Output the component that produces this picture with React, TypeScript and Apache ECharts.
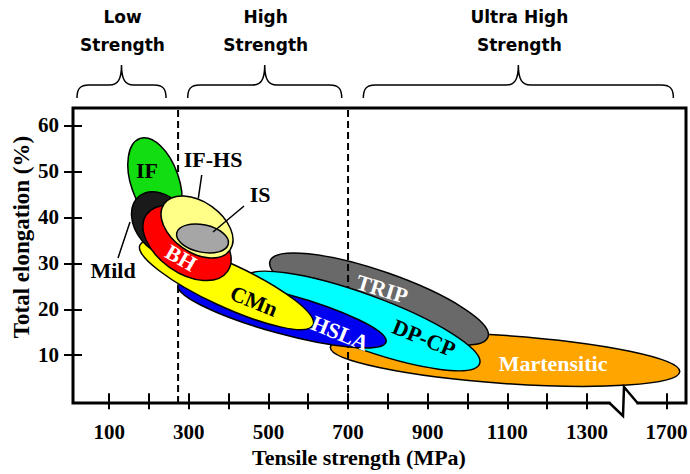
import React, { useEffect, useRef } from "react";
import * as echarts from "echarts";

// ---------- axis values ----------
const X_MIN = 9;
const X_MAX = 1549;
const Y_MIN = -0.4;
const Y_MAX = 63.8;
const xTickValues = [100, 200, 300, 400, 500, 600, 700, 800, 900, 1000, 1100, 1200, 1300, 1500];
const xLabelValues = [100, 300, 500, 700, 900, 1100, 1300, 1500];
const xLabelTexts = ["100", "300", "500", "700", "900", "1100", "1300", "1700"];
const yTickValues = [10, 20, 30, 40, 50, 60];
const axisBreakAt = 1392;
const dividerStrength = [273, 700];

// ---------- steel families (drawing order, back to front) ----------
const steelNames = ["Martensitic", "TRIP", "DP-CP", "HSLA", "CMn", "IF", "Mild", "BH", "IF-HS", "IS"];
// major axis end points: tensile strength (MPa) and total elongation (%)
const tsStart = [655.7, 504.0, 439.9, 272.8, 177.3, 177.3, 174.6, 193.7, 237.9, 269.6];
const elStart = [11.72, 30.5, 26.76, 25.28, 33.98, 57.16, 44.56, 40.6, 42.93, 36.6];
const tsEnd = [1533.1, 1051.7, 1030.4, 795.4, 612.0, 252.7, 290.7, 397.2, 403.2, 399.2];
const elEnd = [6.41, 13.96, 8.13, 12.87, 16.57, 38.23, 32.55, 28.24, 32.87, 34.2];
// half width of each band, in elongation (%)
const halfWidthEl = [5.22, 5.98, 5.88, 4.35, 4.68, 5.22, 5.66, 6.53, 5.51, 2.98];
const steelColors = ["#ffa500", "#696969", "#00ffff", "#0000f0", "#ffff00", "#11dd11", "#1a1a1a", "#ff0000", "#ffff88", "#a6a6a6"];
const backLayer = 2; // first families drawn behind the divider lines

// ---------- labels ----------
const labelTS = [1215, 785.4, 890.9, 679.9, 463.8, 194.9, 109.5, 280.4, 360.8, 478.9];
const labelEl = [8.09, 24.41, 13.75, 14.83, 21.8, 50.3, 28.54, 31.16, 52.5, 44.87];
const labelColors = ["#fff", "#fff", "#000", "#fff", "#000", "#000", "#000", "#fff", "#000", "#000"];
const labelTilt = [0, 17, 22, 22, 22, 0, 0, 30, 0, 0];

// leader lines (Mild, IF-HS, IS)
const leaderFromTS = [122.1, 332.4, 438.7];
const leaderFromEl = [31.16, 49.22, 42.47];
const leaderToTS = [152.2, 323.8, 360.8];
const leaderToEl = [38.99, 44.15, 36.81];

// ---------- strength classes ----------
const classLine1 = ["Low", "High", "Ultra High"];
const classLine2 = ["Strength", "Strength", "Strength"];
const classFrom = [19, 297.2, 738.4];
const classTo = [242.7, 684.1, 1517.3];

const SERIF = '"Liberation Serif", "Times New Roman", serif';

export default function App() {
  const ref = useRef<HTMLDivElement>(null);

  useEffect(() => {
    if (!ref.current) return;
    const chart = echarts.init(ref.current, undefined, { renderer: "svg" });

    const ellipseData = steelNames.map((_, i) => [tsStart[i], elStart[i], tsEnd[i], elEnd[i], halfWidthEl[i], i]);

    const ellipseRender = (params: any, api: any) => {
      const i = api.value(5);
      const p1 = api.coord([api.value(0), api.value(1)]);
      const p2 = api.coord([api.value(2), api.value(3)]);
      const dx = p2[0] - p1[0];
      const dy = p2[1] - p1[1];
      const rx = Math.hypot(dx, dy) / 2;
      const ry = Math.abs(api.size([0, api.value(4)])[1]);
      return {
        type: "ellipse",
        x: (p1[0] + p2[0]) / 2,
        y: (p1[1] + p2[1]) / 2,
        rotation: -Math.atan2(dy, dx),
        shape: { cx: 0, cy: 0, rx, ry },
        style: { fill: steelColors[i], stroke: "#000", lineWidth: 1.5 },
        z2: i,
      };
    };

    const ellipseSeries = (data: any[], z: number) => ({
      type: "custom",
      z,
      silent: true,
      encode: { x: [0, 2], y: [1, 3] },
      data,
      renderItem: ellipseRender,
    });

    const option: any = {
      animation: false,
      backgroundColor: "#fff",
      grid: {
        left: 73,
        right: 4,
        top: 108,
        bottom: 71,
        show: true,
        borderColor: "#000",
        borderWidth: 3,
        backgroundColor: "transparent",
        containLabel: false,
        outerBoundsMode: "none",
      },
      xAxis: [
        {
          type: "value",
          min: X_MIN,
          max: X_MAX,
          position: "bottom",
          axisLine: { show: false },
          splitLine: { show: false },
          axisTick: { show: true, inside: true, length: 8, lineStyle: { color: "#000", width: 2 }, customValues: xTickValues },
          axisLabel: {
            customValues: xLabelValues,
            formatter: (v: number) => {
              const k = xLabelValues.indexOf(Math.round(v));
              return k >= 0 ? xLabelTexts[k] : "";
            },
            margin: 18,
            color: "#000",
            fontSize: 21,
            fontWeight: "bold",
            fontFamily: SERIF,
          },
        },
        {
          type: "value",
          min: X_MIN,
          max: X_MAX,
          position: "bottom",
          axisLine: { show: false },
          splitLine: { show: false },
          axisTick: { show: true, inside: false, length: 8, lineStyle: { color: "#000", width: 2 }, customValues: xTickValues },
          axisLabel: { show: false },
        },
      ],
      yAxis: [
        {
          type: "value",
          min: Y_MIN,
          max: Y_MAX,
          position: "left",
          axisLine: { show: false },
          splitLine: { show: false },
          axisTick: { show: true, inside: false, length: 9, lineStyle: { color: "#000", width: 2 }, customValues: yTickValues },
          axisLabel: {
            customValues: yTickValues,
            margin: 14,
            color: "#000",
            fontSize: 21,
            fontWeight: "bold",
            fontFamily: SERIF,
          },
        },
        {
          type: "value",
          min: Y_MIN,
          max: Y_MAX,
          position: "left",
          axisLine: { show: false },
          splitLine: { show: false },
          axisTick: { show: true, inside: true, length: 9, lineStyle: { color: "#000", width: 2 }, customValues: yTickValues },
          axisLabel: { show: false },
        },
      ],
      graphic: [
        {
          type: "text",
          x: 359,
          y: 457,
          style: { text: "Tensile strength (MPa)", font: `bold 22px ${SERIF}`, fill: "#000", align: "center", verticalAlign: "middle" },
        },
        {
          type: "text",
          x: 21,
          y: 237,
          rotation: Math.PI / 2,
          style: { text: "Total elongation (%)", font: `bold 23px ${SERIF}`, fill: "#000", align: "center", verticalAlign: "middle" },
        },
      ],
      series: [
        ellipseSeries(ellipseData.slice(0, backLayer), 2),
        {
          type: "custom",
          z: 3,
          silent: true,
          encode: { x: 0, y: 1 },
          data: dividerStrength.map((v) => [v, Y_MIN]),
          renderItem: (params: any, api: any) => {
            const a = api.coord([api.value(0), Y_MIN]);
            const b = api.coord([api.value(0), Y_MAX]);
            return {
              type: "line",
              shape: { x1: a[0], y1: a[1], x2: b[0], y2: b[1] },
              style: { stroke: "#000", lineWidth: 2, lineDash: [7, 4] },
            };
          },
        },
        ellipseSeries(ellipseData.slice(backLayer), 4),
        {
          type: "custom",
          z: 5,
          silent: true,
          encode: { x: [0, 2], y: [1, 3] },
          data: leaderFromTS.map((v, i) => [v, leaderFromEl[i], leaderToTS[i], leaderToEl[i]]),
          renderItem: (params: any, api: any) => {
            const a = api.coord([api.value(0), api.value(1)]);
            const b = api.coord([api.value(2), api.value(3)]);
            return {
              type: "line",
              shape: { x1: a[0], y1: a[1], x2: b[0], y2: b[1] },
              style: { stroke: "#000", lineWidth: 1.5 },
            };
          },
        },
        {
          type: "custom",
          z: 6,
          silent: true,
          encode: { x: 0, y: 1 },
          data: labelTS.map((v, i) => [v, labelEl[i]]),
          renderItem: (params: any, api: any) => {
            const i = params.dataIndex;
            const p = api.coord([api.value(0), api.value(1)]);
            return {
              type: "text",
              x: p[0],
              y: p[1],
              rotation: (-labelTilt[i] * Math.PI) / 180,
              style: {
                text: steelNames[i],
                fill: labelColors[i],
                font: `bold 22px ${SERIF}`,
                align: "center",
                verticalAlign: "middle",
              },
            };
          },
        },
        {
          type: "custom",
          z: 6,
          silent: true,
          encode: { x: [0, 2], y: 1 },
          data: classFrom.map((v, i) => [v, Y_MAX, classTo[i]]),
          renderItem: (params: any, api: any) => {
            const i = params.dataIndex;
            const a = api.coord([api.value(0), Y_MAX]);
            const b = api.coord([api.value(2), Y_MAX]);
            const top = a[1];
            const x0 = a[0];
            const x1 = b[0];
            const xm = (x0 + x1) / 2;
            const yEnd = top - 10;
            const yBar = top - 23;
            const yTip = top - 43;
            const d =
              `M${x0},${yEnd} C${x0},${yBar + 4} ${x0 + 3},${yBar} ${x0 + 12},${yBar} ` +
              `L${xm - 12},${yBar} C${xm - 4},${yBar} ${xm},${yBar - 5} ${xm},${yTip} ` +
              `C${xm},${yBar - 5} ${xm + 4},${yBar} ${xm + 12},${yBar} ` +
              `L${x1 - 12},${yBar} C${x1 - 3},${yBar} ${x1},${yBar + 4} ${x1},${yEnd}`;
            const font = 'bold 17px "DejaVu Sans", sans-serif';
            return {
              type: "group",
              children: [
                { type: "path", shape: { pathData: d }, style: { fill: "none", stroke: "#000", lineWidth: 1.5 } },
                { type: "text", x: xm + 1, y: top - 90.6, style: { text: classLine1[i], font, fill: "#000", align: "center", verticalAlign: "middle" } },
                { type: "text", x: xm + 1, y: top - 63.2, style: { text: classLine2[i], font, fill: "#000", align: "center", verticalAlign: "middle" } },
              ],
            };
          },
        },
        {
          type: "custom",
          z: 7,
          silent: true,
          encode: { x: 0, y: 1 },
          data: [[axisBreakAt, Y_MIN]],
          renderItem: (params: any, api: any) => {
            const p = api.coord([api.value(0), api.value(1)]);
            return {
              type: "group",
              children: [
                { type: "rect", shape: { x: p[0] - 13, y: p[1] - 4, width: 26, height: 8 }, style: { fill: "#fff" } },
                {
                  type: "polyline",
                  shape: { points: [[p[0] - 14, p[1]], [p[0] - 0.5, p[1] + 13], [p[0] + 0.5, p[1] - 16], [p[0] + 14, p[1]]] },
                  style: { stroke: "#000", lineWidth: 2.5, fill: "none" },
                },
              ],
            };
          },
        },
      ],
    };

    chart.setOption(option);
    return () => chart.dispose();
  }, []);

  return <div ref={ref} style={{ position: "fixed", left: 0, top: 0, width: 690, height: 474, background: "#fff" }} />;
}
